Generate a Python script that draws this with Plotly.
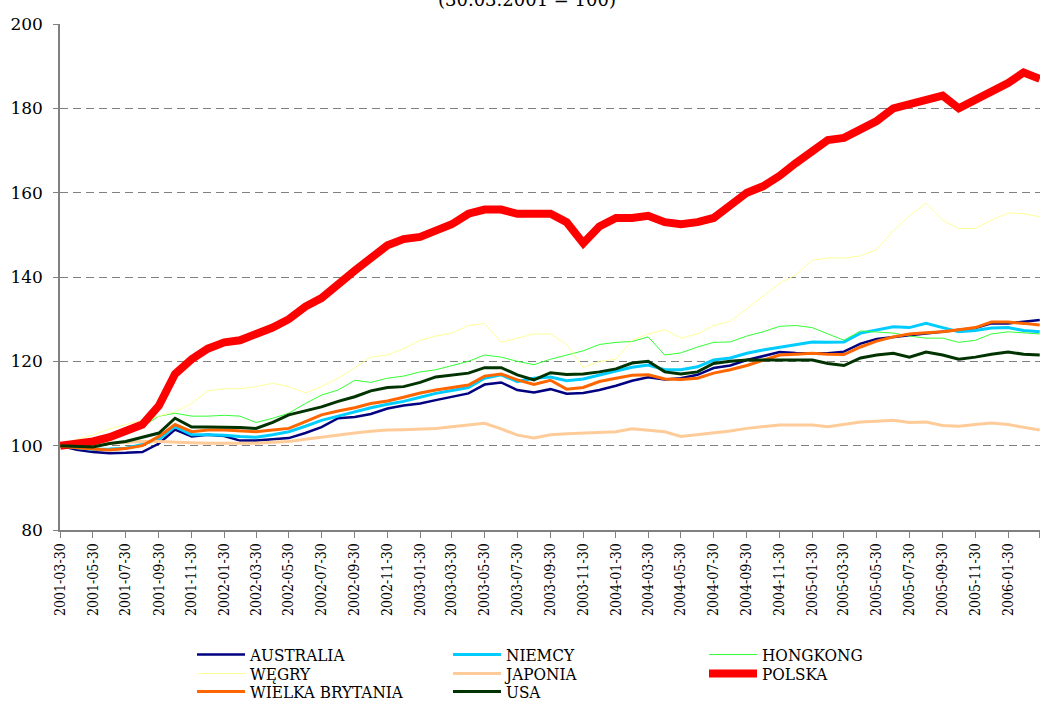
import pandas as pd
import plotly.graph_objects as go

# Monthly observation dates (2001-03-30 .. 2006-03-30)
start = pd.Timestamp("2001-03-30")
dates = [start + pd.DateOffset(months=i) for i in range(61)]

tick_dates = ["2001-03-30", "2001-05-30", "2001-07-30", "2001-09-30", "2001-11-30",
              "2002-01-30", "2002-03-30", "2002-05-30", "2002-07-30", "2002-09-30", "2002-11-30",
              "2003-01-30", "2003-03-30", "2003-05-30", "2003-07-30", "2003-09-30", "2003-11-30",
              "2004-01-30", "2004-03-30", "2004-05-30", "2004-07-30", "2004-09-30", "2004-11-30",
              "2005-01-30", "2005-03-30", "2005-05-30", "2005-07-30", "2005-09-30", "2005-11-30",
              "2006-01-30", "2006-03-30"]

australia = [100, 99, 98.5, 98.2, 98.3, 98.5, 100.5, 103.8, 102.2, 102.6, 102.3, 101.2, 101.2,
             101.5, 101.8, 103, 104.4, 106.5, 106.8, 107.5, 108.8, 109.5, 110, 110.8, 111.5,
             112.4, 114.5, 115, 113.2, 112.6, 113.4, 112.3, 112.5, 113.2, 114.2, 115.4, 116.2,
             115.7, 116, 116.8, 118.4, 119, 120.3, 121.2, 122.2, 122, 121.9, 121.9, 122.3,
             124.2, 125.3, 125.8, 126.2, 126.6, 127, 127.4, 127.9, 129, 129, 129.4, 129.8]

niemcy = [100, 99.5, 99.1, 99.2, 99.4, 100.3, 101.5, 104.5, 102.6, 102.6, 102.5, 102.2, 102,
          102.6, 103.3, 104.6, 106, 107, 108, 109, 109.8, 110.5, 111.5, 112.4, 113.1,
          113.8, 116, 116.8, 115.2, 116, 116.3, 115.4, 115.8, 116.8, 117.7, 118.6, 119.1,
          118, 118, 118.7, 120.3, 120.8, 121.9, 122.7, 123.4, 124, 124.6, 124.5, 124.6,
          126.7, 127.5, 128.2, 128, 129, 128, 127, 127.3, 127.9, 128, 127.3, 127]

hongkong = [100, 100.5, 101, 102, 102.8, 104.5, 107, 107.7, 107, 107, 107.2, 107, 105.5,
            106.5, 107.7, 110, 112, 113.2, 115.5, 115, 116, 116.5, 117.5, 118, 119,
            120, 121.5, 121, 120, 119.2, 120.5, 121.5, 122.5, 124, 124.5, 124.7, 125.8,
            121.5, 122, 123.4, 124.5, 124.6, 126, 127, 128.3, 128.5, 128, 126.5, 125,
            127.2, 127, 126.7, 126, 125.5, 125.5, 124.5, 125, 126.5, 127, 126.7, 126.5]

wegry = [100, 101.5, 102.5, 104, 105, 106, 107, 108, 110, 113, 113.5, 113.5, 114,
         114.8, 114, 112.5, 114, 116, 118.5, 121, 121.5, 123, 125, 126, 126.7,
         128.5, 129, 124.5, 125.5, 126.5, 126.5, 124, 118.5, 120, 120.5, 125, 126.5,
         127.5, 125.5, 126.5, 128.5, 129.5, 132.5, 135.5, 138.5, 140.5, 144, 144.5, 144.5,
         145, 146.5, 151, 154.5, 157.5, 153.5, 151.5, 151.5, 153.5, 155.2, 155, 154.3]

japonia = [100, 100.2, 100.4, 100.6, 100.8, 101, 101, 100.8, 100.7, 100.6, 100.6, 100.6, 100.6,
           100.8, 101, 101.5, 102, 102.6, 103, 103.4, 103.7, 103.8, 104, 104.1, 104.5,
           104.9, 105.3, 104, 102.5, 101.8, 102.6, 102.8, 103, 103.1, 103.3, 104, 103.6,
           103.3, 102.2, 102.6, 103.1, 103.5, 104.1, 104.5, 104.9, 104.9, 104.9, 104.5, 105,
           105.6, 105.8, 106, 105.5, 105.6, 104.8, 104.6, 105, 105.4, 105, 104.3, 103.7]

polska = [100, 100.5, 101, 102, 103.5, 105, 109.5, 117, 120.5, 123, 124.5, 125, 126.5,
          128, 130, 133, 135, 138.5, 141.5, 144.5, 147.5, 149, 149.5, 151, 152.5,
          155, 156, 156, 155, 155, 155, 153, 148, 152, 154, 154, 154.5,
          153, 152.5, 153, 154, 157, 160, 161.5, 164, 167, 170, 172.5, 173,
          175, 177, 180, 181, 182, 183, 180, 182, 184, 186, 188.5, 187]

wielka_brytania = [100, 99.5, 99.2, 99, 99.3, 100, 102.2, 105, 103.3, 103.7, 103.7, 103.5, 103.3,
                   103.7, 104.1, 105.7, 107.3, 108.2, 109, 110, 110.6, 111.5, 112.5, 113.2, 113.8,
                   114.4, 116.5, 117, 115.6, 114.5, 115.5, 113.4, 113.8, 115.2, 116, 116.7, 116.8,
                   115.8, 115.7, 116, 117.2, 118, 119, 120.3, 121.5, 121.7, 121.9, 121.7, 121.6,
                   123.4, 124.8, 125.8, 126.5, 126.8, 127, 127.5, 128, 129.3, 129.3, 129, 128.6]

usa = [100, 99.8, 99.7, 100.5, 101, 102, 103, 106.5, 104.4, 104.4, 104.4, 104.3, 104.1,
       105.5, 107.3, 108.3, 109.2, 110.5, 111.6, 113, 113.8, 114, 115, 116.3, 116.8,
       117.2, 118.5, 118.5, 116.8, 115.6, 117.3, 116.9, 117, 117.5, 118.2, 119.6, 120,
       117.5, 117, 117.5, 119.5, 120, 120.3, 120.3, 120.3, 120.3, 120.3, 119.5, 119,
       120.8, 121.5, 121.9, 121, 122.2, 121.5, 120.5, 121, 121.7, 122.2, 121.7, 121.5]

series = [
    ("AUSTRALIA", australia, "#000080", 2.5, "legend"),
    ("NIEMCY", niemcy, "#00CCFF", 3, "legend2"),
    ("HONGKONG", hongkong, "#33FF33", 1, "legend3"),
    ("WĘGRY", wegry, "#FFFF99", 1, "legend4"),
    ("JAPONIA", japonia, "#FFCC99", 3, "legend5"),
    ("POLSKA", polska, "#FF0000", 8, "legend6"),
    ("WIELKA BRYTANIA", wielka_brytania, "#FF6600", 3, "legend7"),
    ("USA", usa, "#003300", 3, "legend8"),
]

fig = go.Figure()
for name, vals, color, width, leg in series:
    fig.add_trace(go.Scatter(x=dates, y=vals, mode="lines", name=name,
                             line=dict(color=color, width=width), legend=leg))

FONT = "DejaVu Serif"
FONT_C = "DejaVu Serif Condensed, DejaVu Serif"
W, H = 1044, 704
L, R, T, B = 60, 4, 24, 174
PW, PH = W - L - R, H - T - B

def px(xp):
    return (xp - L) / PW

def py(yp):
    return (H - B - yp) / PH

# legend placement in container coordinates (pixels from top-left)
leg_pos = {
    "legend": (192, 655), "legend2": (448, 655), "legend3": (704, 655),
    "legend4": (192, 674), "legend5": (448, 674), "legend6": (704, 674),
    "legend7": (192, 692), "legend8": (448, 692),
}
legends = {}
for k, (lx, ly) in leg_pos.items():
    legends[k] = dict(x=lx / W, y=1 - ly / H, xref="container", yref="container",
                      xanchor="left", yanchor="middle",
                      orientation="v", bgcolor="rgba(0,0,0,0)", borderwidth=0,
                      font=dict(family=FONT_C, size=17, color="black"),
                      itemwidth=48, tracegroupgap=0)

fig.update_layout(
    width=W, height=H,
    margin=dict(l=L, r=R, t=T, b=B, autoexpand=False),
    paper_bgcolor="white", plot_bgcolor="white",
    showlegend=True,
    font=dict(family=FONT, color="black"),
    xaxis=dict(type="date", range=["2001-03-29 12:00", "2006-03-30 12:00"],
               tickvals=tick_dates, ticktext=tick_dates, tickangle=-90,
               tickfont=dict(family=FONT_C, size=14, color="black"),
               showgrid=False, zeroline=False, automargin=False,
               showline=True, linecolor="#808080", linewidth=1.5,
               ticks="outside", ticklen=6, tickcolor="#808080"),
    yaxis=dict(range=[80, 200], tickvals=[80, 100, 120, 140, 160, 180, 200],
               tickfont=dict(family=FONT, size=17, color="black"),
               ticklabelstandoff=7,
               showgrid=True, gridcolor="#808080", griddash="8px,5px", gridwidth=1,
               zeroline=False, showline=True, linecolor="#808080", linewidth=1.5,
               automargin=False,
               ticks="outside", ticklen=5, tickcolor="#808080"),
    annotations=[dict(text="(30.03.2001 = 100)", xref="paper", yref="paper",
                      x=px(527), y=py(-1), xanchor="center", yanchor="middle",
                      showarrow=False, font=dict(family=FONT, size=18, color="black"))],
    **legends,
)

fig.write_html("out.html", config={"displayModeBar": False},
               post_script="document.body.style.margin='0';document.body.style.padding='0';")
